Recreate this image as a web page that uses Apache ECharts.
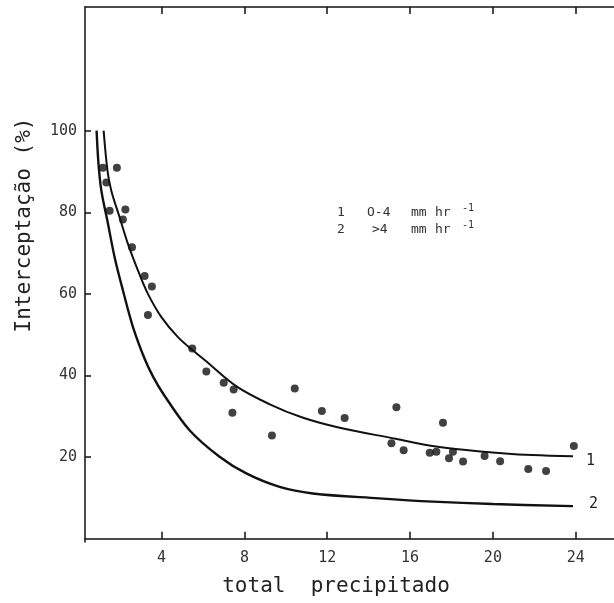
<!DOCTYPE html>
<html>
<head>
<meta charset="utf-8">
<script src="https://cdn.jsdelivr.net/npm/echarts@6/dist/echarts.min.js"></script>
<style>html,body{margin:0;padding:0;background:#fff}#c{width:614px;height:603px}</style>
</head>
<body>
<div id="c"></div>
<script>
// Tick values
const xTicks = [4, 8, 12, 16, 20, 24];
const yTicks = [20, 40, 60, 80, 100];

// Curve 1: 0-4 mm/hr (x = total precipitado, y = interceptação %)
const curve1X = [1.2, 1.39, 1.57, 1.97, 2.37, 2.86, 3.34, 3.99, 4.79, 5.59, 6.08, 7.6, 9.2, 10.8, 12.6, 15.3, 17.0, 19.4, 21.9, 23.87];
const curve1Y = [100, 90, 85.3, 78.8, 72.3, 65.7, 60.0, 54.3, 49.4, 45.8, 43.8, 37.4, 33.0, 29.7, 27.2, 24.5, 22.8, 21.4, 20.5, 20.2];

// Curve 2: >4 mm/hr
const curve2X = [0.86, 0.95, 1.09, 1.41, 1.73, 2.13, 2.61, 3.18, 3.6, 4.07, 5.35, 6.8, 8.09, 9.7, 11.3, 14.5, 17.1, 20.0, 23.87];
const curve2Y = [100, 92, 85.3, 77.2, 69.0, 60.9, 52.0, 44.1, 39.6, 35.6, 26.6, 20.1, 16.0, 12.7, 11.1, 9.9, 9.1, 8.5, 8.0];

// Observed points
const obsX = [1.16, 1.84, 1.33, 1.49, 2.25, 2.13, 2.57, 3.18, 3.53, 3.34, 5.48, 6.16, 7.0, 7.48, 7.42, 10.43, 11.74, 9.33, 12.84, 15.34, 17.59, 15.10, 15.69, 16.95, 17.27, 18.07, 17.88, 18.56, 19.6, 20.35, 21.71, 22.57, 23.91];
const obsY = [90.9, 90.9, 87.3, 80.4, 80.7, 78.2, 71.4, 64.4, 61.8, 54.8, 46.6, 41.0, 38.2, 36.6, 30.9, 36.8, 31.3, 25.3, 29.6, 32.2, 28.4, 23.4, 21.7, 21.1, 21.3, 21.3, 19.7, 18.9, 20.3, 19.0, 17.1, 16.6, 22.7];

const zip = (a, b) => a.map((v, i) => [v, b[i]]);

const mono = '"DejaVu Sans Mono", monospace';
const axisLineStyle = { color: '#111', width: 1.5 };

const chart = echarts.init(document.getElementById('c'), null, { renderer: 'canvas' });
chart.setOption({
  backgroundColor: '#fff',
  animation: false,
  grid: { left: 85, top: 7, right: 0, bottom: 61, containLabel: false },
  xAxis: [{
    type: 'value', min: 0.3, max: 25.85,
    axisLine: { show: true, lineStyle: axisLineStyle },
    axisTick: { show: true, inside: true, length: 7, customValues: xTicks, lineStyle: { color: '#111', width: 1.5 } },
    axisLabel: { customValues: xTicks, margin: 9, fontFamily: mono, fontSize: 15, color: '#333' },
    splitLine: { show: false }
  }, {
    type: 'value', min: 0.3, max: 25.85, position: 'top',
    axisLine: { show: true, lineStyle: axisLineStyle },
    axisTick: { show: true, inside: true, length: 7, customValues: xTicks, lineStyle: { color: '#111', width: 1.5 } },
    axisLabel: { show: false },
    splitLine: { show: false }
  }],
  yAxis: {
    type: 'value', min: -0.8, max: 130.3,
    axisLine: { show: true, lineStyle: axisLineStyle },
    axisTick: { show: true, inside: true, length: 6, customValues: yTicks, lineStyle: { color: '#111', width: 1.5 } },
    axisLabel: { customValues: yTicks, margin: 8, fontFamily: mono, fontSize: 15, color: '#333' },
    splitLine: { show: false }
  },
  series: [{
    type: 'line', data: zip(curve1X, curve1Y), smooth: 0.35,
    showSymbol: false, lineStyle: { color: '#111', width: 2 },
    endLabel: { show: true, formatter: '1', fontFamily: mono, fontSize: 15, color: '#222', offset: [5, 5] }
  }, {
    type: 'line', data: zip(curve2X, curve2Y), smooth: 0.35,
    showSymbol: false, lineStyle: { color: '#111', width: 2.4 },
    endLabel: { show: true, formatter: '2', fontFamily: mono, fontSize: 15, color: '#222', offset: [8, -2] }
  }, {
    type: 'scatter', data: zip(obsX, obsY), symbol: 'circle', symbolSize: 8,
    itemStyle: { color: '#111' }
  }],
  graphic: [
    { type: 'text', x: 25, y: 225, rotation: Math.PI / 2,
      style: { text: 'Interceptação (%)', fontFamily: mono, fontSize: 21, fill: '#222', align: 'center', verticalAlign: 'middle' } },
    { type: 'text', x: 336, y: 587,
      style: { text: 'total  precipitado', fontFamily: mono, fontSize: 21, fill: '#222', align: 'center', verticalAlign: 'middle' } },
    { type: 'text', x: 341, y: 213, style: { text: '1', fontFamily: mono, fontSize: 13, fill: '#333', align: 'center', verticalAlign: 'middle' } },
    { type: 'text', x: 367, y: 213, style: { text: 'O-4', fontFamily: mono, fontSize: 13, fill: '#333', align: 'left', verticalAlign: 'middle' } },
    { type: 'text', x: 411, y: 213, style: { text: 'mm', fontFamily: mono, fontSize: 13, fill: '#333', align: 'left', verticalAlign: 'middle' } },
    { type: 'text', x: 435, y: 213, style: { text: 'hr', fontFamily: mono, fontSize: 13, fill: '#333', align: 'left', verticalAlign: 'middle' } },
    { type: 'text', x: 462, y: 208, style: { text: '-1', fontFamily: mono, fontSize: 10, fill: '#333', align: 'left', verticalAlign: 'middle' } },
    { type: 'text', x: 341, y: 230, style: { text: '2', fontFamily: mono, fontSize: 13, fill: '#333', align: 'center', verticalAlign: 'middle' } },
    { type: 'text', x: 372, y: 230, style: { text: '>4', fontFamily: mono, fontSize: 13, fill: '#333', align: 'left', verticalAlign: 'middle' } },
    { type: 'text', x: 411, y: 230, style: { text: 'mm', fontFamily: mono, fontSize: 13, fill: '#333', align: 'left', verticalAlign: 'middle' } },
    { type: 'text', x: 435, y: 230, style: { text: 'hr', fontFamily: mono, fontSize: 13, fill: '#333', align: 'left', verticalAlign: 'middle' } },
    { type: 'text', x: 462, y: 225, style: { text: '-1', fontFamily: mono, fontSize: 10, fill: '#333', align: 'left', verticalAlign: 'middle' } }
  ]
});
</script>
</body>
</html>
